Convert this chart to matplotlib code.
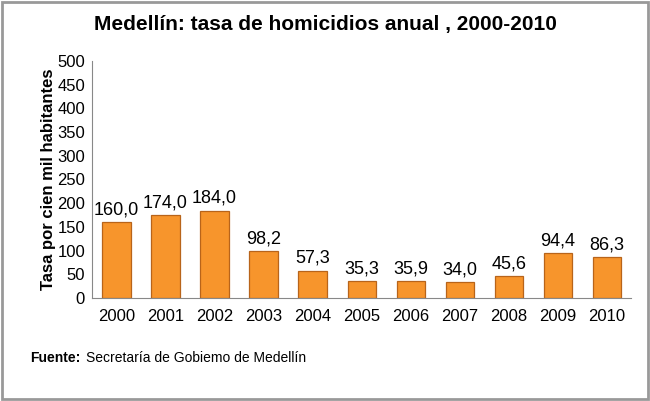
import matplotlib.pyplot as plt
from matplotlib.patches import Rectangle

plt.rcParams['font.family'] = ['Liberation Sans', 'DejaVu Sans']

years = ['2000', '2001', '2002', '2003', '2004', '2005', '2006', '2007', '2008', '2009', '2010']
tasa = [160.0, 174.0, 184.0, 98.2, 57.3, 35.3, 35.9, 34.0, 45.6, 94.4, 86.3]

fig = plt.figure(figsize=(6.5, 4.01), dpi=100)
ax = fig.add_axes([0.1415, 0.257, 0.83, 0.591])

x = range(len(years))
bars = ax.bar(x, tasa, width=0.58, color='#F7952C', edgecolor='#B8641A', linewidth=0.9)

for xi, v in zip(x, tasa):
    ax.text(xi, v + 8, f'{v:.1f}'.replace('.', ','), ha='center', va='bottom', fontsize=13)

ax.set_xlim(-0.5, len(years) - 0.5)
ax.set_ylim(0, 500)
ax.set_yticks(range(0, 501, 50))
ax.set_xticks(list(x))
ax.set_xticklabels(years)
ax.tick_params(axis='both', labelsize=12, length=0)
ax.tick_params(axis='x', pad=8)
ax.tick_params(axis='y', pad=5)
ax.spines['top'].set_visible(False)
ax.spines['right'].set_visible(False)
ax.spines['left'].set_color('#888888')
ax.spines['bottom'].set_color('#888888')
ax.set_ylabel('Tasa por cien mil habitantes', fontsize=12, fontweight='bold', labelpad=1)

fig.text(0.5, 0.94, 'Medellín: tasa de homicidios anual , 2000-2010', ha='center', va='center',
         fontsize=15, fontweight='bold')
fig.text(0.046, 0.107, 'Fuente:', fontsize=10, fontweight='bold', va='center')
fig.text(0.133, 0.107, 'Secretaría de Gobiemo de Medellín', fontsize=10, va='center')

fig.patches.append(Rectangle((0.003, 0.004), 0.994, 0.992, transform=fig.transFigure,
                             fill=False, edgecolor='#999999', linewidth=2))

fig.savefig('out.png', dpi=100)
